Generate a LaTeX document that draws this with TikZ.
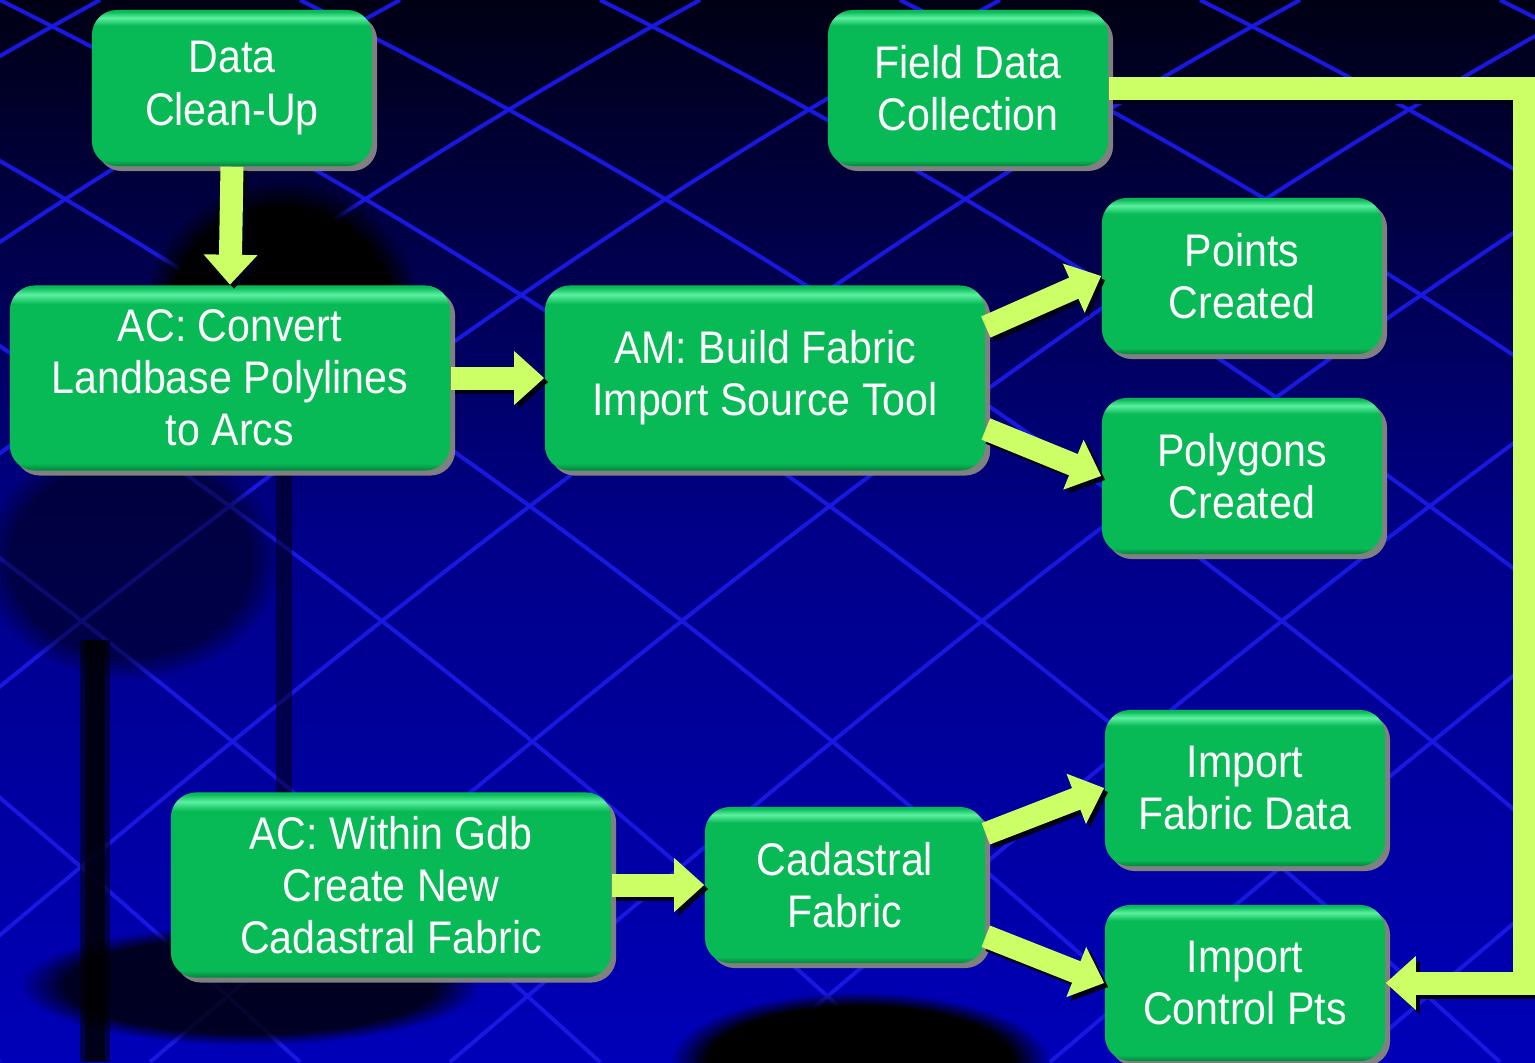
\documentclass[tikz,border=0pt]{standalone}
\usepackage{fontspec}
\newfontfamily\stagefont[FakeStretch=0.9]{Liberation Sans}
\usetikzlibrary{arrows.meta}
\usetikzlibrary{shadows}
\usetikzlibrary{fadings}
\definecolor{stagegreen}{HTML}{08BA56}
\definecolor{stagelight}{HTML}{5CF0A0}
\definecolor{stagedark}{HTML}{05853E}
\definecolor{flowgreen}{HTML}{CCFF66}
\definecolor{bgtop}{HTML}{000014}
\definecolor{bgmid}{HTML}{000088}
\definecolor{bgbottom}{HTML}{0000B8}
\definecolor{gridblue}{HTML}{1818E0}
\pgfdeclareverticalshading{stageshade}{100bp}{color(0bp)=(stagedark); color(25bp)=(stagedark); color(27bp)=(stagegreen); color(70bp)=(stagegreen); color(72.5bp)=(stagelight); color(74.5bp)=(stagegreen); color(100bp)=(stagegreen)}

\begin{document}
\begin{tikzpicture}[x=0.01cm, y=-0.01cm,
  stage/.style={rounded corners=0.25cm, shading=stageshade,
    drop shadow={shadow xshift=0.05cm, shadow yshift=-0.05cm, fill=black!50, opacity=1},
    text=white, align=center, inner sep=0pt,
    font=\stagefont\fontsize{13}{14.8}\selectfont},
  smallstage/.style={stage, minimum width=2.8cm, minimum height=1.56cm},
  widestage/.style={stage, minimum width=4.4cm, minimum height=1.85cm},
  flow/.style={draw=flowgreen, line width=0.23cm, -{Triangle[length=0.3cm, width=0.52cm]}},
  flowshadow/.style={flow, draw=black!90!blue, transform canvas={shift={(4,4)}}},
  gridline/.style={draw=gridblue, line width=0.04cm},
  blob/.style={fill=black, path fading=circle with fuzzy edge 20 percent}]

\fill[top color=bgtop, bottom color=bgbottom, middle color=bgmid] (0,0) rectangle (1535,1062);
\useasboundingbox (0,0) rectangle (1535,1062);

\begin{scope}
\clip (0,0) rectangle (1535,1062);
\foreach \s in {-1500,-1200,...,1500}
  \draw[gridline] (\s,0) .. controls (\s+600,300) and (\s+1050,650) .. (\s+1500,1062);
\foreach \s in {100,400,...,3100}
  \draw[gridline] (\s,0) .. controls (\s-550,300) and (\s-1000,680) .. (\s-1450,1062);
\fill[blob] (282,320) circle (140);
\fill[blob, opacity=0.5] (130,560) ellipse (150 and 120);
\fill[black, opacity=0.55] (80,640) rectangle (110,1062);
\fill[black, opacity=0.7] (85,640) rectangle (105,1062);
\fill[black, opacity=0.5] (276,440) rectangle (292,800);
\fill[blob, opacity=0.8] (250,985) ellipse (230 and 60);
\fill[blob] (860,1062) ellipse (190 and 70);
\end{scope}

\node[smallstage] (clean) at (232,88) {Data\\Clean-Up};
\node[smallstage] (field) at (968,88) {Field Data\\Collection};
\node[widestage] (convert) at (230,378) {AC: Convert\\Landbase Polylines\\to Arcs};
\node[widestage] (build) at (765,378) {AM: Build Fabric\\Import Source Tool};
\node[smallstage] (points) at (1242,276) {Points\\Created};
\node[smallstage] (polygons) at (1242,476) {Polygons\\Created};
\node[widestage] (within) at (391,885) {AC: Within Gdb\\Create New\\Cadastral Fabric};
\node[smallstage] (cadastral) at (845,885) {Cadastral\\Fabric};
\node[smallstage] (fabdata) at (1245,788) {Import\\Fabric Data};
\node[smallstage] (ctrlpts) at (1245,983) {Import\\Control Pts};

\foreach \a/\b in {clean.south/convert.north, convert.east/build.west,
    build.13/points.west, build.-13/polygons.west, within.east/cadastral.west,
    cadastral.20/fabdata.west, cadastral.-20/ctrlpts.west}
{
  \draw[flowshadow] (\a) -- (\b);
  \draw[flow] (\a) -- (\b);
}
\draw[flowshadow] (field.east) -- ++(416,0) |- (ctrlpts.east);
\draw[flow] (field.east) -- ++(416,0) |- (ctrlpts.east);

\end{tikzpicture}
\end{document}
